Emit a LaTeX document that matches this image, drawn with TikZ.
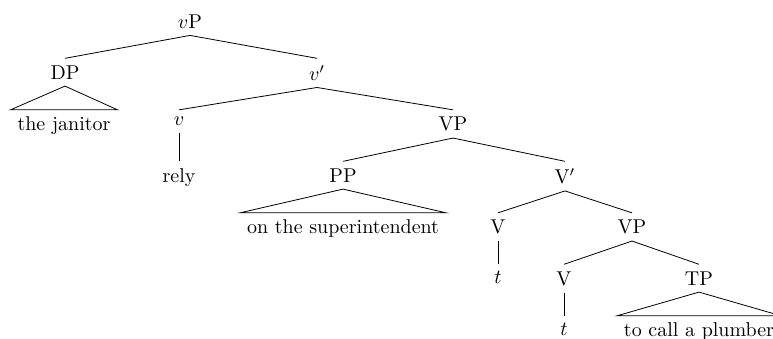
\documentclass[tikz,border=0pt]{standalone}
\usepackage{amsmath}
\usepackage{tikz}
\usetikzlibrary{positioning}

\begin{document}
\begin{tikzpicture}[
    line width=0.4pt,
    cat/.style={
        anchor=north,
        inner sep=3.33pt
    },
    leaf/.style={
        anchor=north,
        inner sep=3.33pt
    }
]

% fixed frame of the picture
\useasboundingbox (0,0) rectangle (13.584,5.940);

% ============================================================
% LEVEL 0 AND 1
% ============================================================

\node[cat] (vP) at (3.339,5.806) {$v$P};

\node[cat] (DP) at (1.142,4.915) {DP};
\node[cat] (vbar) at (5.571,4.915) {$v'$};

\draw (vP.south) -- (DP.north);
\draw (vP.south) -- (vbar.north);

% ============================================================
% LEVEL 2
% ============================================================

% subject under a roof
\node[leaf] (janitor) at (1.125,4.010) {the janitor};

\draw (DP.south) -- (janitor.north west)
    -- (janitor.north east) -- cycle;

\node[cat] (v) at (3.146,4.010) {$v$};
\node[cat] (VP) at (7.961,4.010) {VP};

\draw (vbar.south) -- (v.north);
\draw (vbar.south) -- (VP.north);

% ============================================================
% LEVEL 3
% ============================================================

\node[leaf] (rely) at (3.146,3.105) {rely};

\draw (v.south) -- (rely.north);

\node[cat] (PP) at (6.028,3.105) {PP};
\node[cat] (Vbar) at (9.929,3.105) {V$'$};

\draw (VP.south) -- (PP.north);
\draw (VP.south) -- (Vbar.north);

% ============================================================
% LEVEL 4
% ============================================================

% object under a roof
\node[leaf] (super) at (6.028,2.200) {on the superintendent};

\draw (PP.south) -- (super.north west)
    -- (super.north east) -- cycle;

\node[cat] (Vhigh) at (8.751,2.200) {V};
\node[cat] (VPlow) at (11.106,2.200) {VP};

\draw (Vbar.south) -- (Vhigh.north);
\draw (Vbar.south) -- (VPlow.north);

% ============================================================
% LEVEL 5
% ============================================================

\node[leaf] (traceA) at (8.751,1.295) {$t$};

\draw (Vhigh.south) -- (traceA.north);

\node[cat] (Vlow) at (9.911,1.295) {V};
\node[cat] (TP) at (12.284,1.295) {TP};

\draw (VPlow.south) -- (Vlow.north);
\draw (VPlow.south) -- (TP.north);

% ============================================================
% LEVEL 6
% ============================================================

\node[leaf] (traceB) at (9.911,0.390) {$t$};

\draw (Vlow.south) -- (traceB.north);

% clause under a roof
\node[leaf] (plumber) at (12.284,0.390) {to call a plumber};

\draw (TP.south) -- (plumber.north west)
    -- (plumber.north east) -- cycle;

\end{tikzpicture}
\end{document}
